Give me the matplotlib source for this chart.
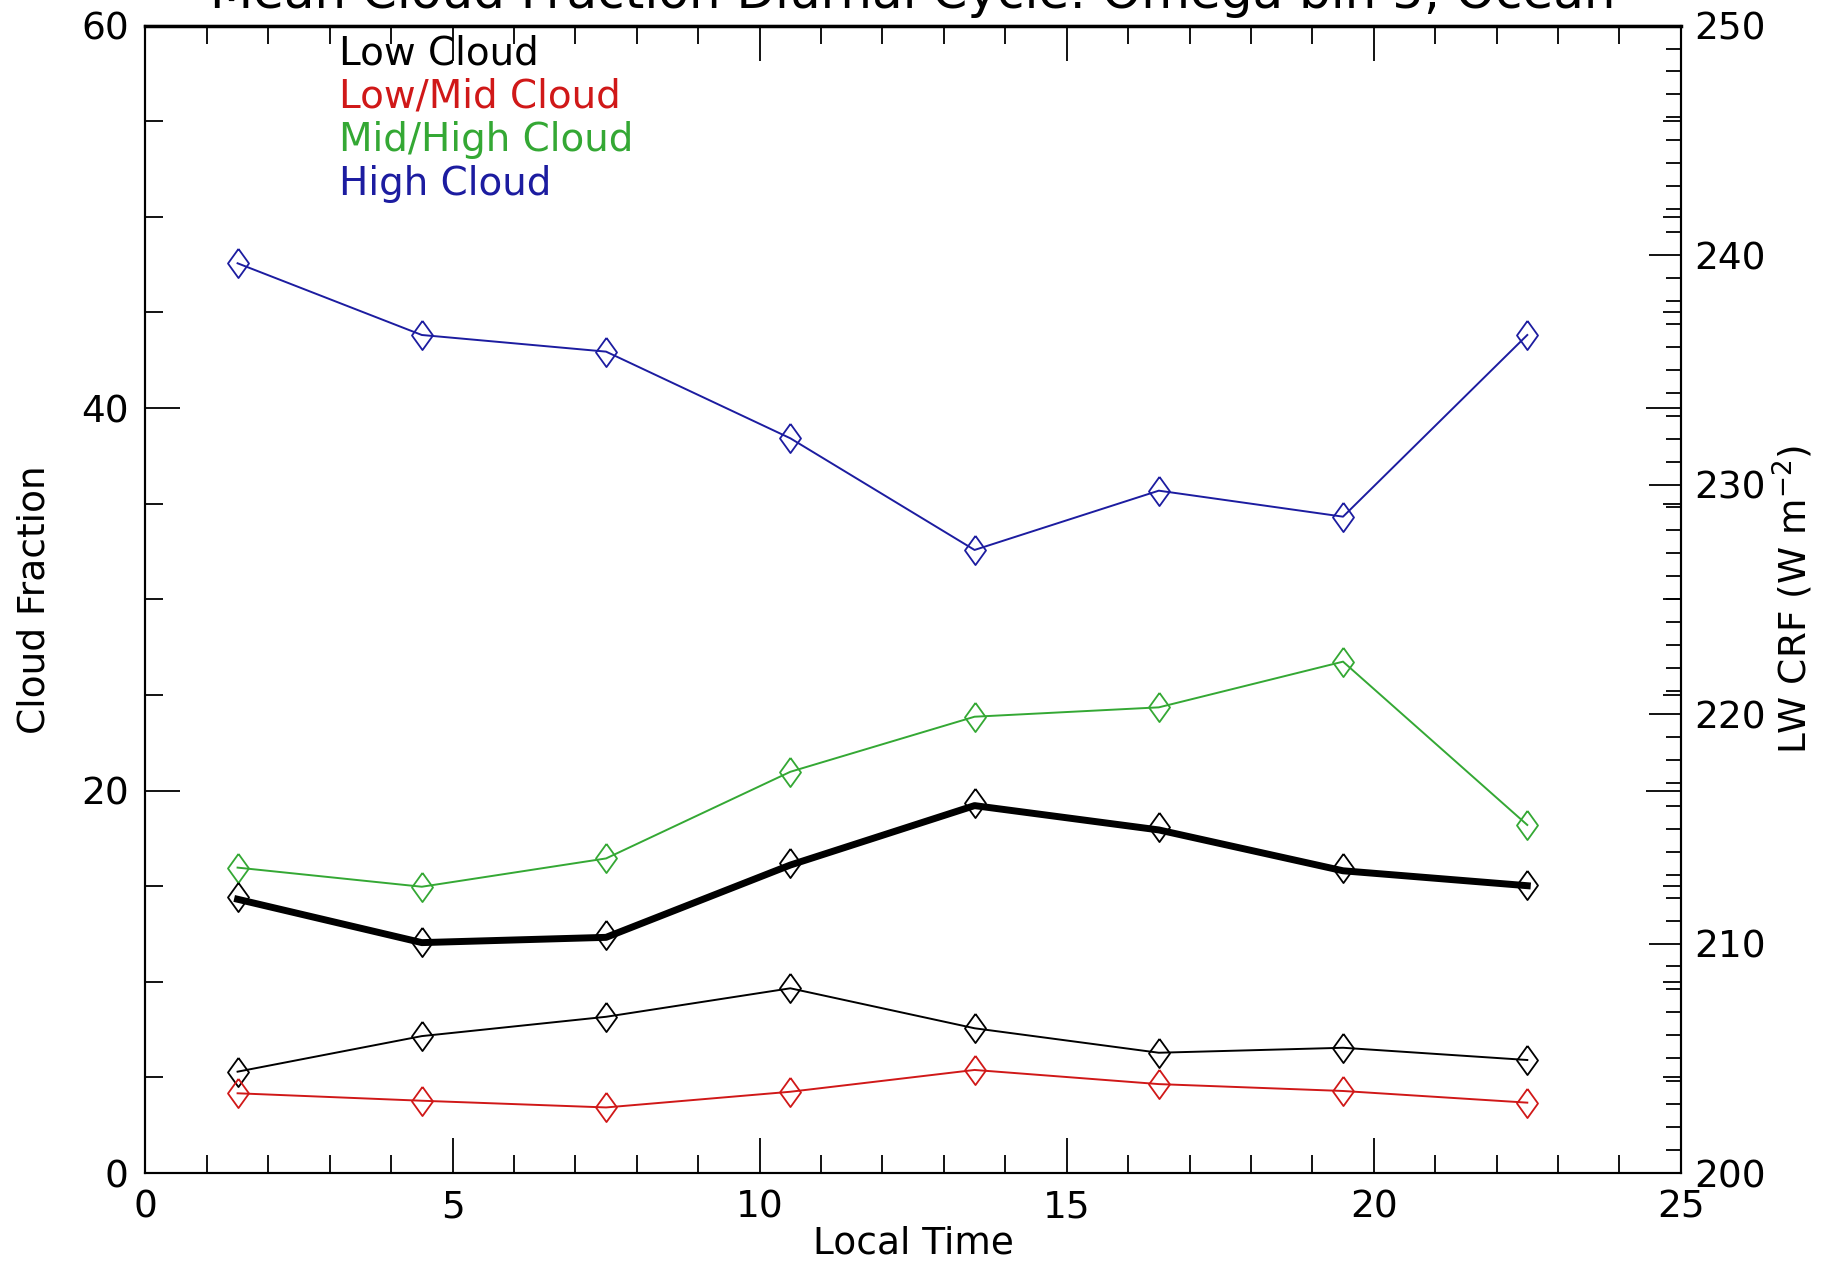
import numpy as np
import matplotlib
matplotlib.use('Agg')
import matplotlib.pyplot as plt
from matplotlib.ticker import MultipleLocator

# local time bins (hours)
local_time = [1.5, 4.5, 7.5, 10.5, 13.5, 16.5, 19.5, 22.5]

# cloud fraction per layer (%)
low_cloud = [5.30, 7.16, 8.17, 9.66, 7.57, 6.29, 6.55, 5.91]
lowmid_cloud = [4.17, 3.78, 3.43, 4.25, 5.39, 4.65, 4.29, 3.68]
midhigh_cloud = [15.97, 14.97, 16.45, 20.98, 23.86, 24.35, 26.74, 18.20]
high_cloud = [47.57, 43.82, 42.95, 38.42, 32.58, 35.68, 34.32, 43.82]
total_marks = [14.45, 12.06, 12.45, 16.19, 19.33, 18.11, 15.93, 15.06]

# longwave cloud radiative forcing (W m-2), right axis
lw_crf = [211.93, 210.04, 210.27, 213.42, 216.01, 214.95, 213.17, 212.52]

names = ['Low Cloud', 'Low/Mid Cloud', 'Mid/High Cloud', 'High Cloud']
cols = ['black', '#d01818', '#34a834', '#1c1ca0']

FS = 27
plt.rcParams['font.family'] = 'DejaVu Sans'

# tall open diamond
diamond = [(0, 1), (0.72, 0), (0, -1), (-0.72, 0), (0, 1)]

fig = plt.figure(figsize=(18.25, 12.65), dpi=100)
ax = fig.add_axes([0.0797, 0.0727, 0.8413, 0.9071])
ax2 = ax.twinx()

series = [low_cloud, lowmid_cloud, midhigh_cloud, high_cloud]
for vals, c in zip(series, cols):
    ax.plot(local_time, vals, color=c, lw=1.4, marker=diamond, ms=21,
            mfc='none', mec=c, mew=1.3)
ax.plot(local_time, total_marks, ls='none', marker=diamond, ms=21,
        mfc='none', mec='black', mew=1.3)

ax2.plot(local_time, lw_crf, color='black', lw=5)

ax.set_xlim(0, 25)
ax.set_ylim(0, 60)
ax2.set_ylim(200, 250)

ax.xaxis.set_major_locator(MultipleLocator(5))
ax.xaxis.set_minor_locator(MultipleLocator(1))
ax.yaxis.set_major_locator(MultipleLocator(20))
ax.yaxis.set_minor_locator(MultipleLocator(5))
ax2.yaxis.set_major_locator(MultipleLocator(10))
ax2.yaxis.set_minor_locator(MultipleLocator(1))

ax.tick_params(which='both', direction='in', top=True, right=True,
               labelsize=FS, width=1.3)
ax.tick_params(which='major', length=25, pad=12)
ax.tick_params(which='minor', length=13)
ax2.tick_params(which='both', direction='in', labelsize=FS, width=1.3)
ax2.tick_params(which='major', length=23, pad=10)
ax2.tick_params(which='minor', length=11)

for a in (ax, ax2):
    for s in a.spines.values():
        s.set_linewidth(1.5)
ax.spines['top'].set_linewidth(2.5)

ax.set_xlabel('Local Time', fontsize=FS)
ax.xaxis.set_label_coords(0.5, -0.061)
ax.xaxis.label.set_va('center')
ax.set_ylabel('Cloud Fraction', fontsize=FS)
ax.yaxis.set_label_coords(-0.072, 0.5)
ax.yaxis.label.set_va('center')
ax2.set_ylabel('LW CRF (W m$^{-2}$)', fontsize=FS)
ax2.yaxis.set_label_coords(1.073, 0.5)
ax2.yaxis.label.set_va('center')

# colour-coded key in the upper left
for i, (n, c) in enumerate(zip(names, cols)):
    ax.text(3.15, 0.9757 - 0.0379 * i, n, color=c, fontsize=28,
            transform=ax.get_xaxis_transform(), va='center', ha='left')

fig.text(0.5, 1 - 8 / 1265, 'Mean Cloud Fraction Diurnal Cycle: Omega bin 5, Ocean',
         fontsize=36, ha='center', va='baseline')

fig.savefig('out.png', dpi=100)
